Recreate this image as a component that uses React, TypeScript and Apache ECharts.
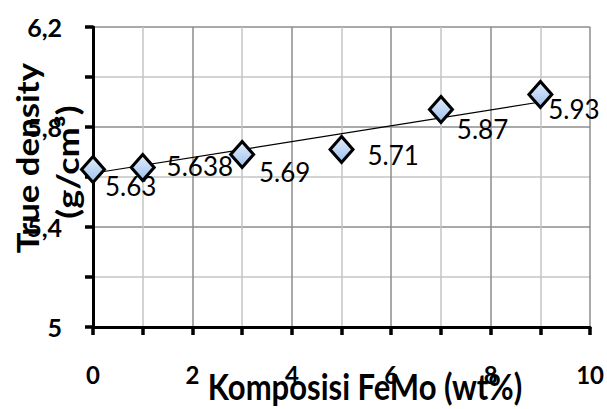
import React, { useEffect, useRef } from "react";
import * as echarts from "echarts";

const composition = [0, 1, 3, 5, 7, 9];
const density = [5.63, 5.638, 5.69, 5.71, 5.87, 5.93];
const densityLabels = ["5.63", "5.638", "5.69", "5.71", "5.87", "5.93"];
const trendX = [0, 9];
const trendY = [5.615, 5.9];
const xTickLabels = ["0", "2", "4", "6", "8", "10"];
const yTickLabels = ["5", "5,4", "5,8", "6,2"];
const xTitle = "Komposisi FeMo (wt%)";
const yTitleLine1 = "True density";
const yTitleLine2 = "(g/cm³)";

// label placement tweaks (layout, not data)
const labelOffsets = [
  [-1, 16],
  [11, -2],
  [4, 17],
  [13, 5],
  [3, 19],
  [-5, 14],
];

const FONT = "Lato, 'Open Sans', sans-serif";

export default function App() {
  const ref = useRef<HTMLDivElement>(null);
  useEffect(() => {
    if (!ref.current) return;
    const chart = echarts.init(ref.current, null, { renderer: "svg" });
    const option: any = {
      animation: false,
      backgroundColor: "#ffffff",
      grid: { left: 93, top: 27, right: 16, bottom: 82, containLabel: false },
      xAxis: {
        type: "value",
        min: 0,
        max: 10,
        interval: 1,
        axisLine: { show: true, onZero: false, lineStyle: { color: "#000", width: 3 } },
        axisTick: { show: true, length: 8, lineStyle: { color: "#000", width: 3.5 } },
        axisLabel: {
          margin: 35,
          color: "#000",
          fontFamily: FONT,
          fontWeight: "bold",
          fontSize: 24,
          formatter: (v: number) => {
            const k = Math.round(v);
            return k % 2 === 0 ? xTickLabels[k / 2] : "";
          },
        },
        splitLine: { show: true, lineStyle: { color: ["#8c8c8c", "#c4c4c4"], width: 1.5 } },
      },
      yAxis: {
        type: "value",
        min: 5,
        max: 6.2,
        interval: 0.2,
        axisLine: { show: true, onZero: false, lineStyle: { color: "#000", width: 3 } },
        axisTick: { show: true, length: 8, lineStyle: { color: "#000", width: 3.5 } },
        axisLabel: {
          margin: 31,
          color: "#000",
          fontFamily: FONT,
          fontWeight: "bold",
          fontSize: 25,
          formatter: (v: number) => {
            const k = Math.round((v - 5) / 0.2);
            return k % 2 === 0 ? yTickLabels[k / 2] : "";
          },
        },
        splitLine: { show: true, lineStyle: { color: ["#8c8c8c", "#c4c4c4"], width: 1.5 } },
      },
      series: [
        {
          type: "line",
          data: trendX.map((x, i) => [x, trendY[i]]),
          showSymbol: false,
          symbol: "none",
          silent: true,
          lineStyle: { color: "#000", width: 1.2 },
          z: 2,
        },
        {
          type: "scatter",
          symbol: "diamond",
          symbolSize: [23, 26],
          z: 3,
          itemStyle: {
            color: {
              type: "linear",
              x: 0,
              y: 0,
              x2: 0,
              y2: 1,
              colorStops: [
                { offset: 0, color: "#e3eefc" },
                { offset: 1, color: "#9ec0ee" },
              ],
            },
            borderColor: "#000",
            borderWidth: 3,
            opacity: 1,
          },
          label: {
            show: true,
            position: "right",
            distance: 0,
            color: "#000",
            fontFamily: FONT,
            fontSize: 26,
            formatter: (p: any) => densityLabels[p.dataIndex],
          },
          data: composition.map((x, i) => ({
            value: [x, density[i]],
            label: { offset: labelOffsets[i] },
          })),
        },
      ],
      graphic: [
        {
          type: "text",
          x: 365,
          y: 386,
          scaleY: 1.14,
          style: {
            text: xTitle,
            fill: "#000",
            font: `bold 31px ${FONT}`,
            align: "center",
            verticalAlign: "middle",
            textAlign: "center",
            textVerticalAlign: "middle",
          },
        },
        {
          type: "text",
          x: 27,
          y: 158,
          rotation: Math.PI / 2,
          scaleX: 1.16,
          style: {
            text: yTitleLine1,
            fill: "#000",
            font: `bold 30px ${FONT}`,
            align: "center",
            verticalAlign: "middle",
            textAlign: "center",
            textVerticalAlign: "middle",
          },
        },
        {
          type: "text",
          x: 67,
          y: 162,
          rotation: Math.PI / 2,
          scaleX: 1.2,
          style: {
            text: yTitleLine2,
            fill: "#000",
            font: `bold 30px ${FONT}`,
            align: "center",
            verticalAlign: "middle",
            textAlign: "center",
            textVerticalAlign: "middle",
          },
        },
      ],
    };
    chart.setOption(option);
    return () => chart.dispose();
  }, []);
  return (
    <div
      ref={ref}
      style={{ position: "fixed", left: 0, top: 0, width: 607, height: 409 }}
    />
  );
}
